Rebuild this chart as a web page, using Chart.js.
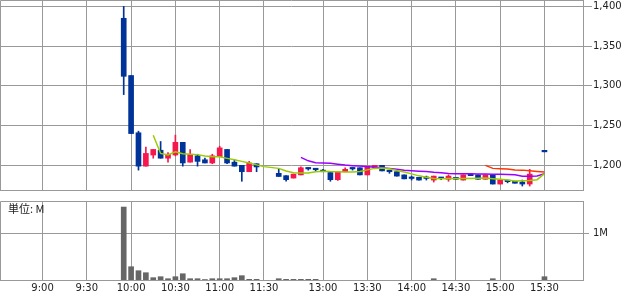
<!doctype html>
<html lang="ja">
<head>
<meta charset="UTF-8" />
<title>株価チャート 5分足</title>
<script src="https://cdn.jsdelivr.net/npm/chart.js@4.4.1/dist/chart.umd.min.js"></script>
<style>
  body { margin: 0; background: #fff; }
  #wrap { position: relative; width: 638px; height: 295px; overflow: hidden; }
  #priceBox { position: absolute; left: 0; top: 0; }
  #volBox { position: absolute; left: 0; top: 196px; }
  #unit { position: absolute; left: 8px; top: 203px; font: 11px "Noto Sans CJK JP", sans-serif; color: #222; line-height: 1; }
</style>
</head>
<body>
<div id="wrap">
  <div id="priceBox"><canvas id="priceChart" width="638" height="191"></canvas></div>
  <div id="volBox"><canvas id="volChart" width="638" height="99"></canvas></div>
  <div id="unit">単位: M</div>
</div>

<script>
// 5-minute bars (time = bar start)
const times = [
  "9:55", "10:00", "10:05", "10:10", "10:15", "10:20", "10:25", "10:30", "10:35", "10:40",
  "10:45", "10:50", "10:55", "11:00", "11:05", "11:10", "11:15", "11:20", "11:25", "11:30",
  "12:30", "12:35", "12:40", "12:45", "12:50", "12:55", "13:00", "13:05", "13:10", "13:15",
  "13:20", "13:25", "13:30", "13:35", "13:40", "13:45", "13:50", "13:55", "14:00", "14:05",
  "14:10", "14:15", "14:20", "14:25", "14:30", "14:35", "14:40", "14:45", "14:50", "14:55",
  "15:00", "15:05", "15:10", "15:15", "15:20", "15:25", "15:30"
];
const open = [
  1385, 1313, 1241, 1199, 1213, 1219, 1209, 1213, 1229, 1204,
  1212, 1207, 1203, 1211, 1220, 1204, 1200, 1192, 1202, null,
  1190, 1187, 1184, 1188, 1196, 1195, 1194, 1191, 1182, 1192,
  1196, 1197, 1188, 1197, 1200, 1194, 1192, 1188, 1184, 1185,
  1184, 1181.5, 1184, 1182.5, 1185, 1181.5, 1187.5, 1188, 1182.5, 1188,
  1176.5, 1180, 1180, 1179, 1176.5, null, 1217.5
];
const high = [
  1400, 1313, 1243, 1223, 1220, 1230, 1216, 1238, 1229, 1220,
  1214, 1209, 1214, 1224, 1220, 1207, 1200, 1205, 1202, null,
  1196, 1187, 1189, 1198, 1197, 1196, 1195, 1191, 1192, 1197,
  1197, 1197, 1199, 1200, 1200, 1194, 1192, 1188, 1186.5, 1185,
  1186.5, 1186.5, 1185, 1188, 1185, 1188, 1187.5, 1188, 1188, 1188,
  1181.5, 1181.5, 1180, 1181.5, 1195, null, 1217.5
];
const low = [
  1289, 1240, 1194, 1199, 1209, 1209, 1204, 1212, 1199, 1204,
  1199, 1203, 1202, 1211, 1202, 1199, 1180, 1192, 1192, null,
  1186, 1180, 1184, 1188, 1194, 1193, 1192, 1180, 1181, 1192,
  1194, 1188, 1188, 1197, 1193, 1190, 1186.5, 1183, 1181.5, 1181.5,
  1181.5, 1179, 1182, 1180, 1182.5, 1181.5, 1187, 1182.5, 1182.5, 1176.5,
  1176.5, 1178, 1177.5, 1174, 1174, null, 1217
];
const close = [
  1312, 1240, 1199, 1215, 1220, 1209, 1214, 1229, 1203, 1214,
  1205, 1203, 1212, 1222, 1203, 1199, 1192, 1203, 1198, null,
  1186, 1182, 1189, 1197, 1195.5, 1194.5, 1192, 1182, 1192, 1195,
  1195.5, 1188, 1199, 1200, 1193, 1192, 1186.5, 1183, 1183.5, 1181.5,
  1183.5, 1186.5, 1183.5, 1186.5, 1182.5, 1188, 1187, 1182.5, 1188, 1176.5,
  1181.5, 1179.5, 1177.5, 1176.5, 1189, null, 1217
];
// moving averages
const maShort = [
  null, null, null, null, 1237.8, 1215, 1213, 1217, 1214.7, 1214,
  1213.5, 1211.7, 1210.7, 1210.7, 1208.8, 1207, 1205, 1203, 1200.6, 1198.4,
  1196.2, 1193, 1190.8, 1190.3, 1190.3, 1192, 1192.7, 1192.2, 1192, 1191.7,
  1191.6, 1192.4, 1194.3, 1196.2, 1196.6, 1195.8, 1193.5, 1191.7, 1189.3, 1186.8,
  1185, 1183.6, 1183.3, 1183.6, 1183.6, 1183.6, 1183.6, 1183.9, 1184.2, 1183.3,
  1182.4, 1181.5, 1180.3, 1180.7, 1181.1, 1182, 1189.5
];
const maMid = [
  null, null, null, null, null, null, null, null, null, null,
  null, null, null, null, null, null, null, null, null, null,
  null, null, null, 1210, 1205.7, 1203.4, 1203.1, 1202.5, 1201.5, 1200.3,
  1199.6, 1199.1, 1198.4, 1197.9, 1197.1, 1196.2, 1195, 1193.7, 1193.1, 1192.7,
  1192.4, 1191.4, 1190.8, 1189.9, 1189.5, 1189.5, 1189.3, 1189.2, 1189, 1188.8,
  1188.7, 1188.4, 1188.2, 1186.3, 1186.4, 1186.7, 1189.5
];
const maLong = [
  null, null, null, null, null, null, null, null, null, null,
  null, null, null, null, null, null, null, null, null, null,
  null, null, null, null, null, null, null, null, null, null,
  null, null, null, null, null, null, null, null, null, null,
  null, null, null, null, null, null, null, null, 1200, 1196.2,
  1195.8, 1195.3, 1194.3, 1194, 1193.3, 1192.4, 1191.6
];
// volume in millions
const volume = [
  1.57, 0.286, 0.2, 0.157, 0.05, 0.071, 0.028, 0.071, 0.135, 0.028,
  0.028, 0.01, 0.028, 0.028, 0.028, 0.05, 0.093, 0.015, 0.015, null,
  0.028, 0.015, 0.015, 0.015, 0.015, 0.015, 0, 0, 0, 0,
  0, 0, 0, 0, 0, 0, 0, 0, 0, 0,
  0, 0.028, 0, 0, 0, 0, 0, 0, 0, 0.028,
  0, 0, 0, 0, 0, null, 0.071
];

const axisTimes = ["9:00", "9:30", "10:00", "10:30", "11:00", "11:30", "13:00", "13:30", "14:00", "14:30", "15:00", "15:30"];
const priceTicks = [1200, 1250, 1300, 1350, 1400];
const volTicks = [1];

const RED = "#f5174e";
const BLUE = "#003399";
const GRID = "#999999";
const TEXT = "#222222";
const FONT = { family: "'DejaVu Sans', sans-serif", size: 10 };
const X_MIN = -5.76;
const X_MAX = 73.22;

// morning and afternoon sessions share one axis, lunch break squeezed to two slots
function slotOf(t) {
    const [h, m] = t.split(":").map(Number);
    const min = h * 60 + m;
    return min <= 690 ? (min - 540) / 5 : (min - 750) / 5 + 32;
}

const wickData = [];
const bodyData = [];
const candleColors = [];
times.forEach((t, i) => {
    if (open[i] === null) return;
    const x = slotOf(t);
    wickData.push({ x: x, y: [low[i], high[i]] });
    bodyData.push({ x: x, y: [open[i], close[i]] });
    candleColors.push(close[i] >= open[i] ? RED : BLUE);
});

function lineData(arr) {
    const out = [];
    times.forEach((t, i) => {
        if (arr[i] !== null) out.push({ x: slotOf(t), y: arr[i] });
    });
    return out;
}

const volData = [];
times.forEach((t, i) => {
    if (volume[i]) volData.push({ x: slotOf(t), y: volume[i] });
});

// left and top edges of the panel
const framePlugin = {
    id: "frame",
    beforeDatasetsDraw(chart) {
        const { ctx, chartArea: a } = chart;
        ctx.save();
        ctx.strokeStyle = GRID;
        ctx.lineWidth = 1;
        ctx.beginPath();
        ctx.moveTo(Math.round(a.left) + 0.5, Math.round(a.bottom));
        ctx.lineTo(Math.round(a.left) + 0.5, Math.round(a.top) + 0.5);
        ctx.lineTo(Math.round(a.right), Math.round(a.top) + 0.5);
        ctx.stroke();
        ctx.restore();
    },
};

function noPadding(axis) {
    axis.paddingTop = 0;
    axis.paddingBottom = 0;
    axis.paddingLeft = 0;
    axis.paddingRight = 0;
}

function timeAxis(showLabels, height) {
    return {
        type: "linear",
        min: X_MIN,
        max: X_MAX,
        offset: false,
        afterBuildTicks: (axis) => {
            axis.ticks = axisTimes.map((t) => ({ value: slotOf(t) }));
        },
        afterFit: (axis) => {
            axis.height = height;
            noPadding(axis);
        },
        ticks: {
            display: showLabels,
            autoSkip: false,
            maxRotation: 0,
            padding: 2,
            color: TEXT,
            font: FONT,
            callback: (v, i) => axisTimes[i],
        },
        grid: { color: GRID, offset: false, drawTicks: false },
        border: { color: GRID },
    };
}

function valueAxis(min, max, ticks, label, tickLength, padding) {
    return {
        position: "right",
        min: min,
        max: max,
        afterBuildTicks: (axis) => {
            axis.ticks = ticks.map((v) => ({ value: v }));
        },
        afterFit: (axis) => {
            axis.width = 55;
            noPadding(axis);
        },
        ticks: { padding: padding, color: TEXT, font: FONT, callback: label },
        grid: { color: GRID, tickLength: tickLength },
        border: { color: GRID },
    };
}

new Chart(document.getElementById("priceChart"), {
    type: "bar",
    data: {
        datasets: [
            { type: "line", data: lineData(maShort), borderColor: "#99cc00", borderWidth: 1.5, pointRadius: 0, order: 0 },
            { type: "line", data: lineData(maMid), borderColor: "#9900ff", borderWidth: 1.5, pointRadius: 0, order: 0 },
            { type: "line", data: lineData(maLong), borderColor: "#ff3300", borderWidth: 1.5, pointRadius: 0, order: 0 },
            { data: bodyData, backgroundColor: candleColors, barThickness: 5, minBarLength: 1.5, grouped: false, order: 1 },
            { data: wickData, backgroundColor: candleColors, barThickness: 1, grouped: false, order: 2 },
        ],
    },
    options: {
        responsive: false,
        animation: false,
        layout: { padding: 0 },
        plugins: { legend: { display: false }, tooltip: { enabled: false } },
        scales: {
            x: timeAxis(false, 1),
            y: valueAxis(1169, 1408, priceTicks, (v) => v.toLocaleString("en-US"), 9, 1),
        },
    },
    plugins: [framePlugin],
});

new Chart(document.getElementById("volChart"), {
    type: "bar",
    data: {
        datasets: [
            { data: volData, backgroundColor: "#666666", barThickness: 5, grouped: false },
        ],
    },
    options: {
        responsive: false,
        animation: false,
        layout: { padding: { top: 5 } },
        plugins: { legend: { display: false }, tooltip: { enabled: false } },
        scales: {
            x: timeAxis(true, 15),
            y: valueAxis(0, 1.7, volTicks, (v) => v + "M", 6, 4),
        },
    },
    plugins: [framePlugin],
});
</script>
</body>
</html>
